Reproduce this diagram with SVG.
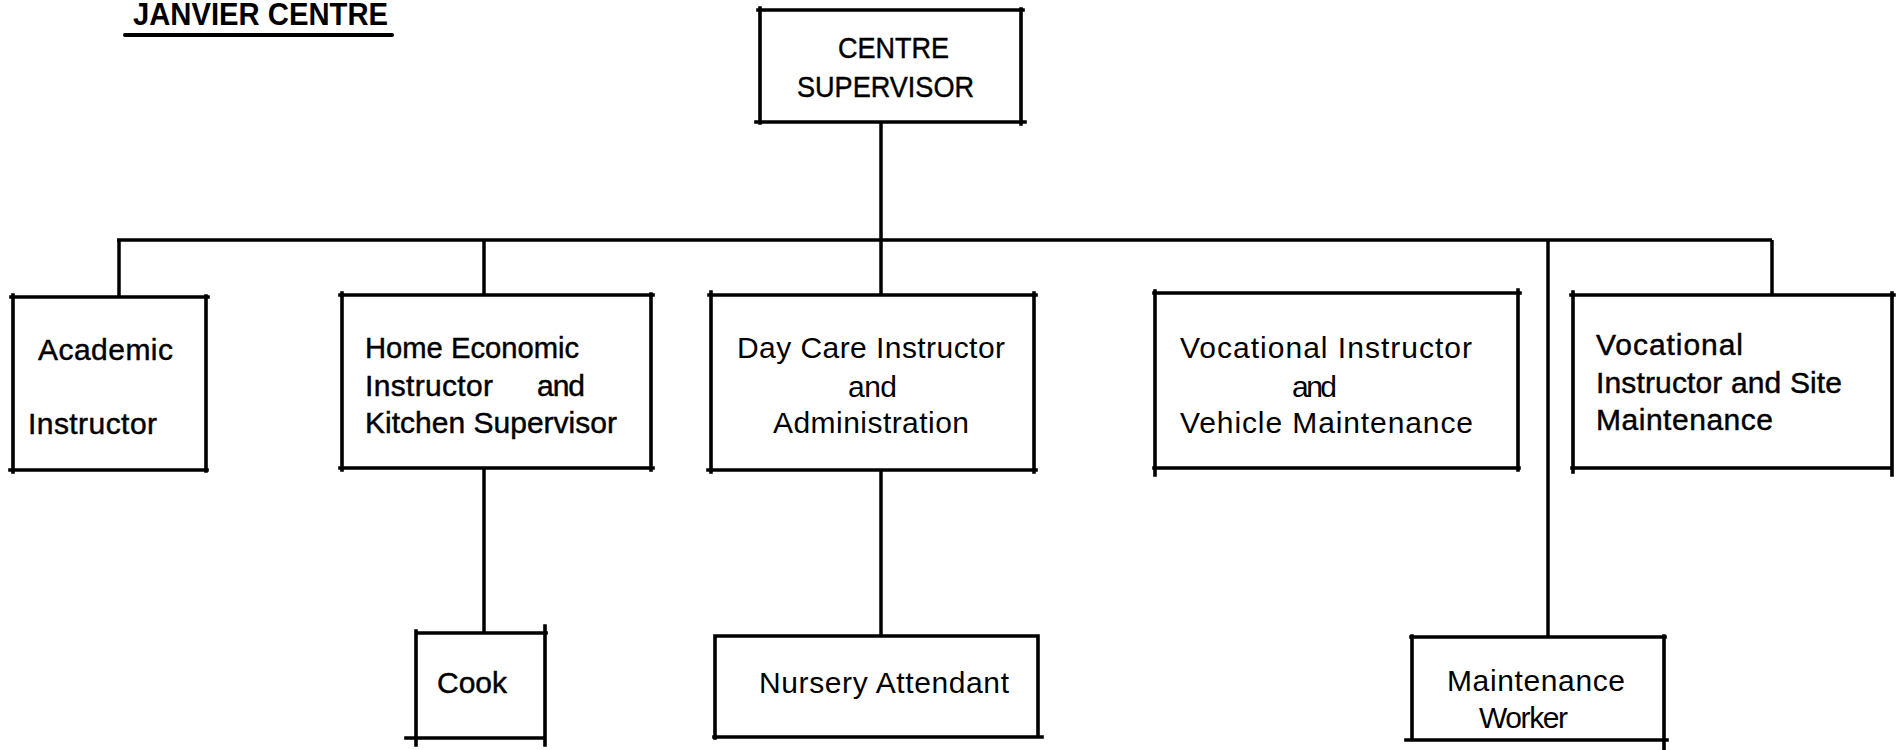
<svg xmlns="http://www.w3.org/2000/svg" width="1901" height="750" viewBox="0 0 1901 750">
<style>
.bg{fill:#ffffff}
.box{fill:none;stroke:#000;stroke-width:3.6;stroke-linecap:square}
.con{fill:none;stroke:#000;stroke-width:3.5;stroke-linecap:butt}
.t{font-family:"Liberation Sans",Arial,sans-serif;font-size:30px;fill:#000}
.h{stroke:#000;stroke-width:0.45}
.title{font-family:"Liberation Sans",Arial,sans-serif;font-size:31px;font-weight:bold;fill:#000}
</style>
<rect class="bg" x="0" y="0" width="1901" height="750"/>
<g id="title">
<text class="title" x="133" y="25" textLength="255" lengthAdjust="spacingAndGlyphs">JANVIER CENTRE</text>
<line x1="125" y1="35" x2="392" y2="35" stroke="#000" stroke-width="4" stroke-linecap="round"/>
</g>
<g id="connectors">
<path class="con" d="M881 122 V295"/>
<path class="con" d="M117 240 H1772"/>
<path class="con" d="M119 240 V297"/>
<path class="con" d="M484 240 V295"/>
<path class="con" d="M1772 240 V295"/>
<path class="con" d="M1548 240 V637"/>
<path class="con" d="M484 468 V633"/>
<path class="con" d="M881 470 V637"/>
</g>
<g id="centre-supervisor">
<path class="box" d="M758 10 H1023 M760 8 V123 M756 122 H1025 M1021 9 V124"/>
<text class="t h" x="838" y="58" font-size="28" textLength="111" lengthAdjust="spacingAndGlyphs">CENTRE</text>
<text class="t h" x="797" y="97" font-size="28" textLength="177" lengthAdjust="spacingAndGlyphs">SUPERVISOR</text>
</g>
<g id="academic-instructor">
<path class="box" d="M11 297 H208 M13 295 V472 M10 470 H207 M206 296 V471"/>
<text class="t h" x="38" y="360" textLength="135" lengthAdjust="spacing">Academic</text>
<text class="t h" x="28" y="434" textLength="129" lengthAdjust="spacing">Instructor</text>
</g>
<g id="home-economic">
<path class="box" d="M340 295 H653 M342 293 V470 M340 468 H653 M651 294 V470"/>
<text class="t h" x="365" y="358" textLength="214" lengthAdjust="spacingAndGlyphs">Home Economic</text>
<text class="t h" x="365" y="396" textLength="128" lengthAdjust="spacing">Instructor</text>
<text class="t h" x="537" y="396" textLength="48" lengthAdjust="spacing">and</text>
<text class="t h" x="365" y="433" textLength="252" lengthAdjust="spacing">Kitchen Supervisor</text>
</g>
<g id="day-care">
<path class="box" d="M709 295 H1036 M711 292 V472 M708 470 H1036 M1034 293 V472"/>
<text class="t" x="737" y="358" textLength="268" lengthAdjust="spacing">Day Care Instructor</text>
<text class="t" x="848" y="397" textLength="49" lengthAdjust="spacing">and</text>
<text class="t" x="773" y="433" textLength="196" lengthAdjust="spacing">Administration</text>
</g>
<g id="vehicle-maintenance">
<path class="box" d="M1154 293 H1520 M1155 291 V475 M1154 468 H1519 M1518 290 V470"/>
<text class="t" x="1180" y="358" textLength="292" lengthAdjust="spacing">Vocational Instructor</text>
<text class="t" x="1292" y="397" textLength="45" lengthAdjust="spacing">and</text>
<text class="t" x="1180" y="433" textLength="293" lengthAdjust="spacing">Vehicle Maintenance</text>
</g>
<g id="site-maintenance">
<path class="box" d="M1571 295 H1894 M1573 292 V472 M1572 468 H1892 M1892 293 V475"/>
<text class="t h" x="1596" y="355" textLength="147" lengthAdjust="spacing">Vocational</text>
<text class="t h" x="1596" y="393" textLength="246" lengthAdjust="spacing">Instructor and Site</text>
<text class="t h" x="1596" y="430" textLength="177" lengthAdjust="spacing">Maintenance</text>
</g>
<g id="cook">
<path class="box" d="M416 633 H546 M416 631 V745 M406 738 H545 M545 626 V745"/>
<text class="t h" x="437" y="693" textLength="70" lengthAdjust="spacing">Cook</text>
</g>
<g id="nursery-attendant">
<path class="box" d="M715 636 H1038 M715 636 V738 M714 737 H1042 M1038 636 V737"/>
<text class="t" x="759" y="693" textLength="250" lengthAdjust="spacing">Nursery Attendant</text>
</g>
<g id="maintenance-worker">
<path class="box" d="M1411 637 H1665 M1412 636 V740 M1406 740 H1667 M1664 636 V750"/>
<text class="t" x="1447" y="691" textLength="178" lengthAdjust="spacing">Maintenance</text>
<text class="t" x="1479" y="728" textLength="89" lengthAdjust="spacing">Worker</text>
</g>
</svg>
